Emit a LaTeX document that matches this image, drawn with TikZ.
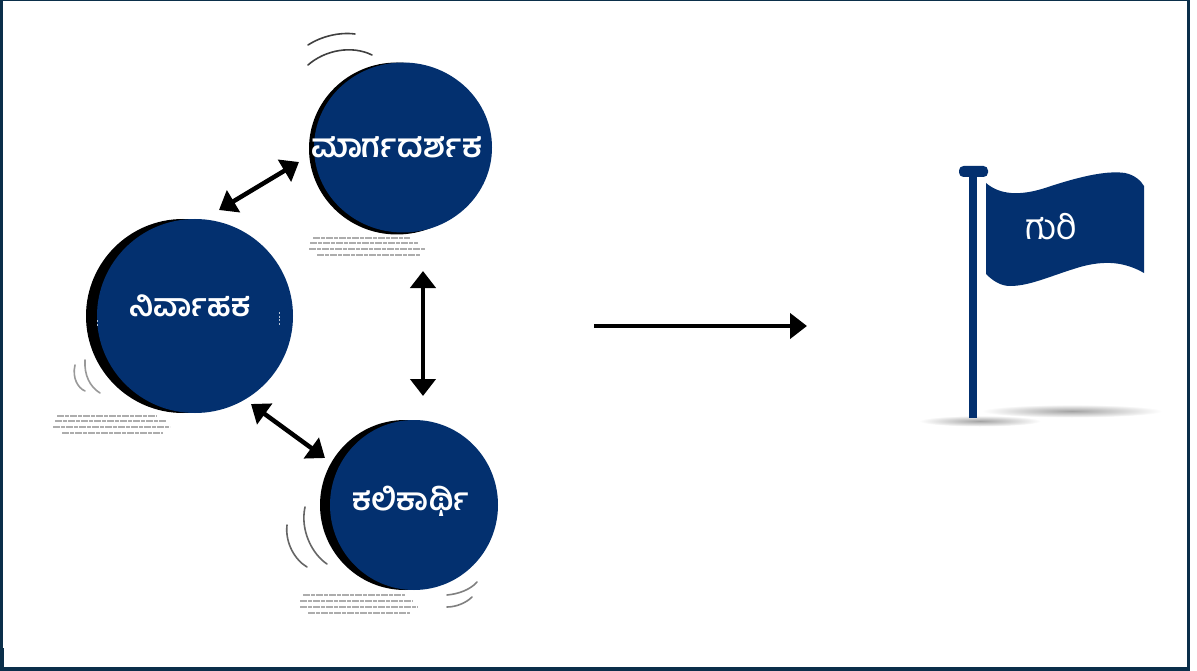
\documentclass[tikz,border=0pt]{standalone}
\usepackage{fontspec}
\newfontfamily\kn[Script=Kannada]{Hind Mysuru}
\usetikzlibrary{arrows.meta,shapes.geometric}
\definecolor{navy}{HTML}{03306F}
\definecolor{frame}{HTML}{0B2F4A}
\tikzset{
  disc/.style={ellipse,fill=navy,inner sep=0pt},
  backdisc/.style={ellipse,fill=black,inner sep=0pt},
  lab/.style={text=white,inner sep=0pt,font=\kn\bfseries\fontsize{#1}{#1}\selectfont},
  lablight/.style={text=white,inner sep=0pt,font=\kn\fontsize{#1}{#1}\selectfont},
  conn/.style={line width=4.5pt,{Triangle[length=17pt,width=25pt]}-{Triangle[length=17pt,width=25pt]}},
  oneway/.style={line width=4.5pt,-{Triangle[length=17pt,width=25pt]}},
  swoosh/.style={line width=1.6pt,draw=black!#1,line cap=round},
  swoosh/.default=60,
  smudge/.style={line width=2pt,draw=black!32,dash pattern=on 7pt off 1pt on 4pt off 1pt},
  shadowblob/.style={ellipse,inner sep=0pt,shading=radial,inner color=black!36,outer color=white}
}
\begin{document}
\begin{tikzpicture}[x=1pt,y=-1pt]
\useasboundingbox (0,0) rectangle (1197,671);
\fill[white] (0,0) rectangle (1197,671);
% circles
\node[backdisc,minimum width=176pt,minimum height=172pt] (topb) at (397,148.5) {};
\node[disc,minimum width=178pt,minimum height=170pt] (top) at (403,147.5) {};
\node[backdisc,minimum width=194pt,minimum height=194pt] (leftb) at (183,316) {};
\node[disc,minimum width=196pt,minimum height=194pt] (left) at (195,316) {};
\node[backdisc,minimum width=170pt,minimum height=170pt] (botb) at (405,505) {};
\node[disc,minimum width=168pt,minimum height=170pt] (bot) at (414,505) {};
\node[lab=32.7] (toplab) at (397,147) {ಮಾರ್ಗದರ್ಶಕ};
\node[lab=31.5] (leftlab) at (190,306) {ನಿರ್ವಾಹಕ};
\node[lab=31] (botlab) at (411,501) {ಕಲಿಕಾರ್ಥಿ};
% connectors
\coordinate (a1) at (219,210); \coordinate (a2) at (299,162);
\coordinate (b1) at (423,271); \coordinate (b2) at (423,396);
\coordinate (c1) at (251,404); \coordinate (c2) at (325,458);
\coordinate (d1) at (594,326); \coordinate (d2) at (807,326);
\draw[conn] (a1) -- (a2);
\draw[conn] (b1) -- (b2);
\draw[conn] (c1) -- (c2);
\draw[oneway] (d1) -- (d2);
% motion marks
\draw[swoosh=75] (308,45) .. controls (322,36) and (340,32) .. (355,34);
\draw[swoosh=75] (308,65) .. controls (325,50) and (352,45) .. (372,55);
\draw[swoosh=40] (75,365) .. controls (72,378) and (78,388) .. (85,391);
\draw[swoosh=40] (85,360) .. controls (84,375) and (90,387) .. (100,393);
\draw[swoosh] (305,507) .. controls (300,530) and (312,554) .. (327,564);
\draw[swoosh] (287,525) .. controls (285,543) and (295,560) .. (307,567);
\draw[swoosh=50] (447,595) .. controls (458,594) and (470,590) .. (477,582);
\draw[swoosh=50] (447,607) .. controls (456,607) and (466,603) .. (472,597);
% smudged captions
\foreach \xa/\xb/\yy in {313/410/238,310/418/243,309/425/249,317/420/255,
  57/157/416,55/166/421,53/170/427,62/163/433,
  303/405/595,300/413/601,300/418/607,308/410/613}
  \draw[smudge] (\xa,\yy) -- (\xb,\yy);
\draw[line width=1pt,draw=white!70!navy,dash pattern=on 2pt off 1.5pt] (279,312) -- (279,325);
\draw[line width=1pt,draw=white!70!navy,dash pattern=on 2pt off 1.5pt] (97,320) -- (97,326);
% flag
\node[shadowblob,minimum width=180pt,minimum height=13pt] (sh1) at (1072,411) {};
\node[shadowblob,minimum width=122pt,minimum height=11pt] (sh2) at (980,421) {};
\fill[navy] (969,172) rectangle (977,418);
\fill[navy,rounded corners=4.5pt] (959,166) rectangle (988,177);
\fill[navy] (986,183) .. controls (1000,195) and (1020,196) .. (1045,188)
  .. controls (1075,178) and (1105,170) .. (1125,173)
  .. controls (1135,175) and (1141,181) .. (1144,186)
  -- (1144,273)
  .. controls (1125,262) and (1105,260) .. (1080,267)
  .. controls (1050,276) and (1030,286) .. (1010,286)
  .. controls (1000,286) and (992,280) .. (986,274) -- cycle;
\node[lablight=35.5] (goal) at (1051,227) {ಗುರಿ};
% frame
\fill[frame] (0,0) rectangle (1190,1.5);
\fill[frame] (0,666.5) rectangle (1190,671);
\fill[frame] (0,0) rectangle (2.5,671);
\fill[frame] (0,648) rectangle (4,671);
\fill[frame] (1187,0) rectangle (1190,671);
\end{tikzpicture}
\end{document}
